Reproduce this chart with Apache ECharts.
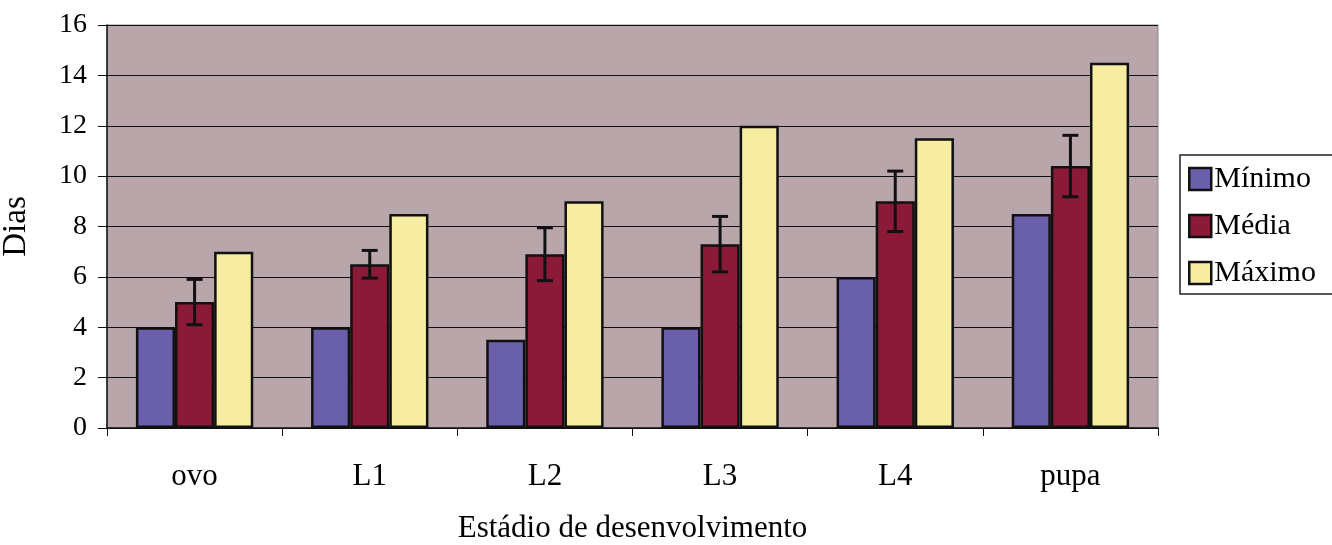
<!DOCTYPE html>
<html>
<head>
<meta charset="utf-8">
<script src="https://cdn.jsdelivr.net/npm/echarts@6/dist/echarts.min.js"></script>
<style>html,body{margin:0;padding:0;background:#fff;}#c{width:1332px;height:545px;}</style>
</head>
<body>
<div id="c"></div>
<script>
var categories = ['ovo', 'L1', 'L2', 'L3', 'L4', 'pupa'];
var minimo = [4, 4, 3.5, 4, 6, 8.5];
var media = [5, 6.5, 6.9, 7.3, 9, 10.4];
var mediaErr = [0.9, 0.55, 1.05, 1.1, 1.2, 1.22];
var maximo = [7, 8.5, 9, 12, 11.5, 14.5];
var yTicks = [0, 2, 4, 6, 8, 10, 12, 14, 16];

var font = '"Liberation Serif", "Times New Roman", serif';
var chart = echarts.init(document.getElementById('c'));
var errData = categories.map(function (c, i) { return [i, media[i] - mediaErr[i], media[i] + mediaErr[i]]; });

chart.setOption({
  animation: false,
  backgroundColor: '#ffffff',
  textStyle: { fontFamily: font, color: '#000' },
  grid: {
    left: 107, top: 25, right: 174, bottom: 117,
    outerBoundsMode: 'none', containLabel: false,
    show: true, backgroundColor: '#b9a6ab', borderColor: '#8a8a8a', borderWidth: 1
  },
  legend: {
    orient: 'vertical',
    left: 1180, top: 155,
    backgroundColor: '#ffffff',
    borderColor: '#222', borderWidth: 1.5,
    padding: [9, 30, 6, 8],
    icon: 'rect',
    itemWidth: 22, itemHeight: 22, itemGap: 17,
    textStyle: { fontFamily: font, fontSize: 30, lineHeight: 30, color: '#000', padding: [0, 0, 0, -2] },
    itemStyle: { borderColor: '#111', borderWidth: 2.5 },
    data: ['Mínimo', 'Média', 'Máximo']
  },
  xAxis: {
    type: 'category',
    data: categories,
    name: 'Estádio de desenvolvimento',
    nameLocation: 'middle',
    nameGap: 85,
    nameTextStyle: { fontFamily: font, fontSize: 31, color: '#000' },
    axisLine: { lineStyle: { color: '#111', width: 1.5 } },
    axisTick: { show: true, length: 8, lineStyle: { color: '#111' } },
    axisLabel: { fontFamily: font, fontSize: 31, color: '#000', margin: 33 }
  },
  yAxis: {
    type: 'value',
    min: 0, max: 16, interval: 2,
    name: 'Dias',
    nameLocation: 'middle',
    nameRotate: 90,
    nameGap: 74,
    nameTextStyle: { fontFamily: font, fontSize: 33, color: '#000' },
    axisLine: { show: true, lineStyle: { color: '#111', width: 1.5 } },
    axisTick: { show: true, length: 9, lineStyle: { color: '#111' } },
    axisLabel: {
      fontFamily: font, fontSize: 28, color: '#000', margin: 20,
      formatter: function (v) { return yTicks.indexOf(v) >= 0 ? String(v) : ''; }
    },
    splitLine: { show: true, lineStyle: { color: '#111', width: 1.2 } }
  },
  series: [
    {
      name: 'Mínimo', type: 'bar', data: minimo,
      barGap: '0%', barCategoryGap: '33%',
      itemStyle: { color: '#6a5fab', borderColor: '#111', borderWidth: 2.5 }
    },
    {
      name: 'Média', type: 'bar', data: media,
      itemStyle: { color: '#8a1a38', borderColor: '#111', borderWidth: 2.5 }
    },
    {
      name: 'Máximo', type: 'bar', data: maximo,
      itemStyle: { color: '#f6eca2', borderColor: '#111', borderWidth: 2.5 }
    },
    {
      name: 'err', type: 'custom', data: errData, z: 10,
      renderItem: function (params, api) {
        var i = api.value(0);
        var lo = api.coord([i, api.value(1)]);
        var hi = api.coord([i, api.value(2)]);
        var w = 8;
        var st = { stroke: '#111', lineWidth: 3 };
        return {
          type: 'group',
          children: [
            { type: 'line', shape: { x1: lo[0], y1: lo[1], x2: hi[0], y2: hi[1] }, style: st },
            { type: 'line', shape: { x1: lo[0] - w, y1: lo[1], x2: lo[0] + w, y2: lo[1] }, style: st },
            { type: 'line', shape: { x1: hi[0] - w, y1: hi[1], x2: hi[0] + w, y2: hi[1] }, style: st }
          ]
        };
      }
    }
  ]
});
</script>
</body>
</html>
